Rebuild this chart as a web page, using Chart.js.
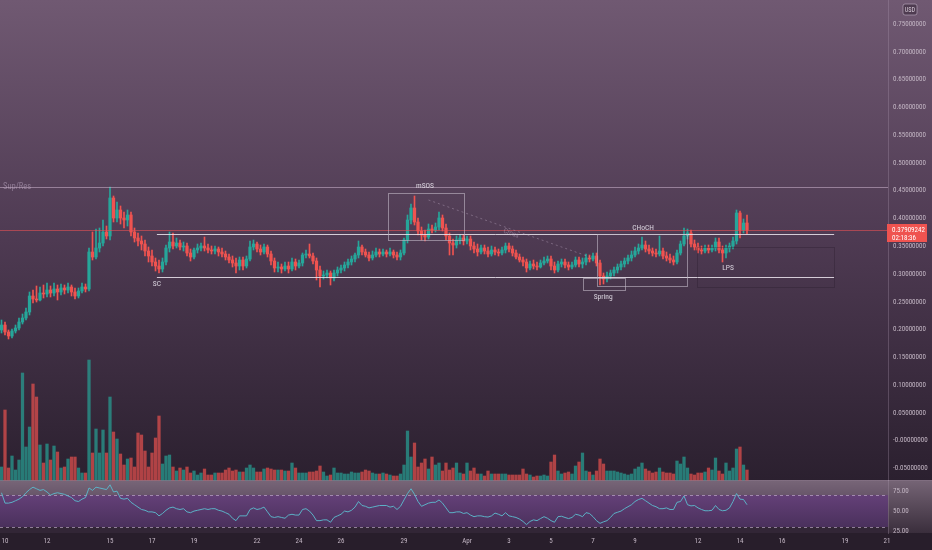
<!DOCTYPE html>
<html><head><meta charset="utf-8">
<script src="https://cdn.jsdelivr.net/npm/chart.js@4.4.1/dist/chart.umd.min.js"></script>
<style>html,body{margin:0;padding:0;background:#281e2b;overflow:hidden}canvas{display:block}</style>
</head><body><canvas id="c" width="932" height="550"></canvas>
<script>
// 4h candles, bar index counted from 10 Mar 00:00 (first candle = index -1)
const firstBar = -1;
const open = [
0.1992,0.2082,0.1956,0.1884,0.1974,0.2028,0.2136,0.2208,0.2316,0.2604,
0.2550,0.2532,0.2658,0.2640,0.2712,0.2658,0.2730,0.2676,0.2748,0.2712,
0.2766,0.2676,0.2604,0.2694,0.2766,0.2730,0.3396,0.3306,0.3468,0.3558,
0.3756,0.3684,0.4368,0.4008,0.4152,0.4008,0.3972,0.4062,0.3756,0.3648,
0.3594,0.3540,0.3414,0.3324,0.3216,0.3144,0.3090,0.3216,0.3468,0.3576,
0.3504,0.3558,0.3486,0.3504,0.3378,0.3306,0.3432,0.3468,0.3504,0.3468,
0.3432,0.3414,0.3450,0.3396,0.3360,0.3306,0.3252,0.3198,0.3144,0.3252,
0.3144,0.3270,0.3486,0.3540,0.3450,0.3396,0.3486,0.3360,0.3234,0.3108,
0.3126,0.3090,0.3144,0.3090,0.3216,0.3144,0.3198,0.3342,0.3360,0.3324,
0.3234,0.3072,0.2964,0.2982,0.3018,0.2928,0.3018,0.3072,0.3108,0.3162,
0.3216,0.3270,0.3342,0.3486,0.3396,0.3342,0.3288,0.3342,0.3396,0.3360,
0.3396,0.3360,0.3396,0.3342,0.3306,0.3378,0.3612,0.3972,0.4188,0.3936,
0.3774,0.3702,0.3666,0.3810,0.3792,0.3846,0.4008,0.3828,0.3684,0.3558,
0.3522,0.3612,0.3648,0.3594,0.3630,0.3504,0.3450,0.3396,0.3468,0.3414,
0.3360,0.3432,0.3396,0.3378,0.3432,0.3504,0.3450,0.3378,0.3306,0.3252,
0.3216,0.3108,0.3180,0.3144,0.3126,0.3198,0.3234,0.3270,0.3144,0.3072,
0.3180,0.3216,0.3162,0.3126,0.3162,0.3252,0.3180,0.3216,0.3288,0.3270,
0.3324,0.3198,0.2964,0.2910,0.2964,0.3018,0.3072,0.3126,0.3180,0.3234,
0.3288,0.3342,0.3414,0.3468,0.3522,0.3450,0.3414,0.3378,0.3360,0.3414,
0.3324,0.3288,0.3252,0.3216,0.3378,0.3540,0.3684,0.3738,0.3540,0.3486,
0.3432,0.3414,0.3468,0.3432,0.3468,0.3576,0.3432,0.3378,0.3468,0.3504,
0.3594,0.4098,0.3792,0.3918];
const high = [
0.2172,0.2136,0.1992,0.2010,0.2082,0.2208,0.2280,0.2388,0.2676,0.2712,
0.2784,0.2766,0.2802,0.2838,0.2784,0.2838,0.2802,0.2820,0.2802,0.2838,
0.2802,0.2748,0.2748,0.2838,0.2820,0.3468,0.3756,0.3810,0.3828,0.3972,
0.3864,0.4566,0.4404,0.4296,0.4224,0.4116,0.4152,0.4116,0.3828,0.3738,
0.3684,0.3612,0.3486,0.3432,0.3288,0.3252,0.3288,0.3522,0.3756,0.3738,
0.3648,0.3612,0.3576,0.3558,0.3450,0.3468,0.3540,0.3558,0.3666,0.3540,
0.3504,0.3504,0.3486,0.3468,0.3414,0.3360,0.3324,0.3288,0.3306,0.3306,
0.3324,0.3594,0.3612,0.3576,0.3522,0.3540,0.3522,0.3414,0.3288,0.3216,
0.3180,0.3216,0.3216,0.3288,0.3270,0.3252,0.3378,0.3432,0.3540,0.3378,
0.3288,0.3144,0.3054,0.3072,0.3054,0.3072,0.3126,0.3162,0.3216,0.3270,
0.3324,0.3378,0.3594,0.3522,0.3450,0.3396,0.3414,0.3468,0.3450,0.3450,
0.3432,0.3468,0.3432,0.3396,0.3432,0.3648,0.4062,0.4260,0.4404,0.4008,
0.3846,0.3792,0.3900,0.3882,0.3918,0.4116,0.4062,0.3900,0.3738,0.3630,
0.3684,0.3702,0.3702,0.3684,0.3684,0.3576,0.3540,0.3522,0.3522,0.3486,
0.3504,0.3486,0.3450,0.3486,0.3558,0.3558,0.3504,0.3432,0.3360,0.3306,
0.3270,0.3234,0.3252,0.3216,0.3252,0.3306,0.3324,0.3324,0.3216,0.3234,
0.3270,0.3270,0.3216,0.3216,0.3306,0.3306,0.3288,0.3360,0.3342,0.3378,
0.3378,0.3252,0.3018,0.3036,0.3072,0.3126,0.3180,0.3234,0.3288,0.3342,
0.3414,0.3486,0.3540,0.3666,0.3594,0.3522,0.3468,0.3450,0.3684,0.3468,
0.3396,0.3360,0.3324,0.3432,0.3594,0.3828,0.3810,0.3792,0.3612,0.3558,
0.3504,0.3522,0.3522,0.3522,0.3648,0.3648,0.3504,0.3522,0.3558,0.3666,
0.4152,0.4134,0.3990,0.4062];
const low = [
0.1938,0.1902,0.1830,0.1848,0.1938,0.1992,0.2100,0.2172,0.2262,0.2478,
0.2496,0.2514,0.2568,0.2586,0.2586,0.2604,0.2532,0.2622,0.2640,0.2658,
0.2604,0.2550,0.2568,0.2658,0.2676,0.2694,0.3252,0.3270,0.3396,0.3504,
0.3630,0.3612,0.3936,0.3936,0.3900,0.3828,0.3864,0.3684,0.3576,0.3504,
0.3432,0.3324,0.3216,0.3144,0.3054,0.3018,0.3036,0.3162,0.3396,0.3450,
0.3468,0.3432,0.3414,0.3324,0.3234,0.3270,0.3378,0.3414,0.3414,0.3378,
0.3360,0.3360,0.3324,0.3306,0.3252,0.3198,0.3126,0.3018,0.3072,0.3072,
0.3108,0.3234,0.3432,0.3396,0.3342,0.3360,0.3306,0.3162,0.3036,0.3036,
0.3018,0.3054,0.3018,0.3054,0.3072,0.3108,0.3144,0.3288,0.3288,0.3180,
0.2892,0.2766,0.2910,0.2928,0.2802,0.2874,0.2964,0.3018,0.3054,0.3108,
0.3162,0.3216,0.3288,0.3342,0.3306,0.3234,0.3252,0.3306,0.3306,0.3324,
0.3306,0.3324,0.3288,0.3252,0.3252,0.3342,0.3558,0.3900,0.3882,0.3702,
0.3612,0.3594,0.3630,0.3738,0.3756,0.3792,0.3774,0.3612,0.3342,0.3342,
0.3468,0.3540,0.3522,0.3540,0.3432,0.3378,0.3324,0.3360,0.3360,0.3306,
0.3324,0.3342,0.3324,0.3342,0.3378,0.3396,0.3324,0.3270,0.3216,0.3144,
0.3036,0.3072,0.3090,0.3072,0.3108,0.3162,0.3198,0.3072,0.3018,0.3036,
0.3126,0.3108,0.3072,0.3090,0.3126,0.3126,0.3108,0.3162,0.3216,0.3234,
0.3144,0.2802,0.2820,0.2856,0.2910,0.2964,0.3018,0.3072,0.3126,0.3180,
0.3234,0.3306,0.3360,0.3432,0.3396,0.3360,0.3324,0.3306,0.3324,0.3270,
0.3234,0.3198,0.3162,0.3180,0.3342,0.3504,0.3630,0.3486,0.3432,0.3378,
0.3360,0.3378,0.3378,0.3396,0.3414,0.3378,0.3216,0.3288,0.3396,0.3450,
0.3540,0.3648,0.3738,0.3720];
const close = [
0.2082,0.1956,0.1884,0.1974,0.2028,0.2136,0.2208,0.2316,0.2604,0.2550,
0.2532,0.2658,0.2640,0.2712,0.2658,0.2730,0.2676,0.2748,0.2712,0.2766,
0.2676,0.2604,0.2694,0.2766,0.2730,0.3396,0.3306,0.3468,0.3558,0.3756,
0.3684,0.4368,0.4008,0.4152,0.4008,0.3972,0.4062,0.3756,0.3648,0.3594,
0.3540,0.3414,0.3324,0.3216,0.3144,0.3090,0.3216,0.3468,0.3576,0.3504,
0.3558,0.3486,0.3504,0.3378,0.3306,0.3432,0.3468,0.3504,0.3468,0.3432,
0.3414,0.3450,0.3396,0.3360,0.3306,0.3252,0.3198,0.3144,0.3252,0.3144,
0.3270,0.3486,0.3540,0.3450,0.3396,0.3486,0.3360,0.3234,0.3108,0.3126,
0.3090,0.3144,0.3090,0.3216,0.3144,0.3198,0.3342,0.3360,0.3324,0.3234,
0.3072,0.2964,0.2982,0.3018,0.2928,0.3018,0.3072,0.3108,0.3162,0.3216,
0.3270,0.3342,0.3486,0.3396,0.3342,0.3288,0.3342,0.3396,0.3360,0.3396,
0.3360,0.3396,0.3342,0.3306,0.3378,0.3612,0.3972,0.4188,0.3936,0.3774,
0.3702,0.3666,0.3810,0.3792,0.3846,0.4008,0.3828,0.3684,0.3558,0.3522,
0.3612,0.3648,0.3594,0.3630,0.3504,0.3450,0.3396,0.3468,0.3414,0.3360,
0.3432,0.3396,0.3378,0.3432,0.3504,0.3450,0.3378,0.3306,0.3252,0.3216,
0.3108,0.3180,0.3144,0.3126,0.3198,0.3234,0.3270,0.3144,0.3072,0.3180,
0.3216,0.3162,0.3126,0.3162,0.3252,0.3180,0.3216,0.3288,0.3270,0.3324,
0.3198,0.2964,0.2910,0.2964,0.3018,0.3072,0.3126,0.3180,0.3234,0.3288,
0.3342,0.3414,0.3468,0.3522,0.3450,0.3414,0.3378,0.3360,0.3414,0.3324,
0.3288,0.3252,0.3216,0.3378,0.3540,0.3684,0.3738,0.3540,0.3486,0.3432,
0.3414,0.3468,0.3432,0.3468,0.3576,0.3432,0.3378,0.3468,0.3504,0.3594,
0.4098,0.3792,0.3918,0.3791];
const volume = [
1.3,7.0,1.2,2.4,1.0,2.0,10.7,3.3,5.3,9.6,
8.3,3.5,1.7,3.6,2.0,3.4,2.8,1.2,1.3,2.1,
2.3,2.3,1.2,0.7,0.7,12.0,2.7,5.1,2.7,5.0,
2.7,8.3,4.8,4.1,2.6,1.5,2.1,2.2,1.3,4.7,
4.5,2.9,1.3,2.7,4.2,6.4,1.6,2.4,2.5,1.3,
0.9,1.2,1.0,1.3,0.7,0.9,0.5,0.7,1.1,0.5,
0.5,0.7,0.7,0.7,1.0,1.2,0.9,1.0,0.8,0.8,
1.2,1.5,1.2,0.8,0.8,1.1,1.2,1.1,1.0,1.0,
1.0,0.9,0.9,1.7,1.2,0.7,0.7,0.7,0.8,0.8,
0.9,1.4,0.8,0.4,0.5,1.2,0.7,0.7,0.6,0.6,
0.8,0.7,0.7,0.8,1.0,0.9,0.7,0.6,0.6,0.7,
0.6,0.5,0.4,0.4,0.6,1.5,4.9,2.3,3.7,1.3,
1.7,2.1,1.1,2.3,1.5,1.7,0.9,1.7,1.0,1.2,
1.7,0.7,0.6,1.7,0.9,1.2,0.6,0.6,0.4,0.9,
0.6,0.6,0.6,0.6,0.6,0.5,0.5,0.5,0.5,1.1,
0.6,0.5,0.3,0.4,0.4,0.5,0.4,1.8,2.5,0.9,
0.6,0.7,0.8,0.6,1.4,1.8,2.7,0.9,0.8,0.5,
0.9,2.1,1.6,0.9,0.9,0.9,0.8,0.7,0.6,0.5,
0.6,1.1,1.3,1.7,1.1,0.9,0.7,0.8,1.2,0.8,
0.7,0.7,0.6,1.9,1.6,2.3,1.2,0.6,0.5,0.7,
0.7,0.8,1.2,1.0,2.2,0.9,0.6,1.7,0.9,1.2,
3.1,3.3,1.5,1.0];
const rsi = [
73,60,60,61,63,65,68,73,77,80,
78,76,77,74,70,72,73,72,71,69,
67,63,62,65,67,79,76,80,79,78,
77,83,74,75,66,65,66,61,58,55,
52,51,49,49,48,44,47,51,54,55,
53,52,53,49,48,50,51,52,53,52,
53,53,51,50,48,46,41,38,44,44,
44,52,54,52,53,55,49,43,42,43,
42,41,45,46,45,45,52,53,50,45,
38,38,39,39,36,42,44,46,50,49,
51,55,62,57,56,54,55,56,57,57,
57,55,56,52,56,64,72,78,71,62,
56,58,60,61,61,64,60,54,48,48,
49,49,47,48,45,43,44,44,43,42.5,
44,47.5,46,44,48,44,43,42,40,37,
33,37,39,38,40.6,43,41,38,36,43,
43.5,42,40.6,42,46,45,43,48,47,43,
38,34.6,36.5,38,42,47,48.5,50,53,55.5,
58,62,64.5,66,63,60,57,55.5,53,53,
54,52,52,61,62,69,58,56.5,57,54,
52,50.4,50.4,51,57,52,50.4,51,54,62,
72,65,64.5,58];

// axis ticks
const dateTickPos = [0,12,30,42,54,72,84,96,114,132,144,156,168,180,198,210,222,240,252];
const dateTickLabels = ['10','12','15','17','19','22','24','26','29','Apr','3','5','7','9','12','14','16','19','21'];
const priceTicks = [0.75,0.70,0.65,0.60,0.55,0.50,0.45,0.40,0.35,0.30,0.25,0.20,0.15,0.10,0.05,0,-0.05];
const priceTickLabels = ['0.75000000','0.70000000','0.65000000','0.60000000','0.55000000','0.50000000','0.45000000','0.40000000','0.35000000','0.30000000','0.25000000','0.20000000','0.15000000','0.10000000','0.05000000','-0.00000000','-0.05000000'];
const rsiTicks = [75,50,25];
const rsiTickLabels = ['75.00','50.00','25.00'];
const rsiBands = [70,30];
const lastPriceText = '0.37909242';
const countdownText = '02:18:36';
const currencyText = 'USD';

// drawings (bar index / price units)
const supRes = 0.4566;
const rangeLevels = [0.3720, 0.2946];
const rangeSpan = [43.4, 236.9];
const boxNames = ['mSOS','Spring','CHoCH','LPS'];
const boxX = [[109.4,131.1],[165.1,177.1],[169.1,194.9],[197.7,236.9]];
const boxY = [[0.4458,0.3612],[0.2928,0.2712],[0.3720,0.2784],[0.3486,0.2766]];
const labelText = ['SC','mSOS','CHoCH','Spring','LPS'];
const labelX = [43.4,120.0,182.3,170.9,206.6];
const labelY = [0.2820,0.4584,0.3828,0.2586,0.3108];
const crossLine = [[121.0,0.4332],[167.1,0.3306]];

const FONT = "'Roboto Condensed','DejaVu Sans Condensed',sans-serif";
const UP = '#26a69a', DN = '#ef5350';
const xs = close.map((_, k) => firstBar + k);
const isUp = close.map((c, k) => c >= open[k]);
const candleCol = isUp.map(u => u ? UP : DN);
const volCol = isUp.map(u => u ? 'rgba(38,166,154,0.68)' : 'rgba(239,83,80,0.68)');

const bgPlugin = {
  id: 'bg',
  beforeDraw(chart) {
    const {ctx, chartArea: ca, scales} = chart;
    const p = scales.price, r = scales.rsi;
    const W = chart.width, H = chart.height;
    ctx.save();
    let g = ctx.createLinearGradient(0, 0, 0, p.bottom);
    g.addColorStop(0, 'rgb(112,89,114)');
    g.addColorStop(0.5, 'rgb(78,58,82)');
    g.addColorStop(1, 'rgb(43,32,47)');
    ctx.fillStyle = g; ctx.fillRect(0, 0, W, p.bottom);
    g = ctx.createLinearGradient(0, r.top, 0, r.bottom);
    g.addColorStop(0, 'rgb(118,101,118)');
    g.addColorStop(1, 'rgb(58,46,60)');
    ctx.fillStyle = g; ctx.fillRect(0, r.top, W, r.bottom - r.top);
    const y70 = r.getPixelForValue(rsiBands[0]), y30 = r.getPixelForValue(rsiBands[1]);
    g = ctx.createLinearGradient(0, r.top, 0, y70);
    g.addColorStop(0, 'rgb(120,102,120)'); g.addColorStop(1, 'rgb(104,86,106)');
    ctx.fillStyle = g; ctx.fillRect(ca.left, r.top, ca.right - ca.left, y70 - r.top);
    g = ctx.createLinearGradient(0, y70, 0, y30);
    g.addColorStop(0, 'rgb(100,64,120)'); g.addColorStop(1, 'rgb(74,48,92)');
    ctx.fillStyle = g; ctx.fillRect(ca.left, y70, ca.right - ca.left, y30 - y70);
    ctx.fillStyle = 'rgb(50,38,54)';
    ctx.fillRect(ca.left, y30, ca.right - ca.left, r.bottom - y30);
    ctx.fillStyle = 'rgb(40,30,43)';
    ctx.fillRect(0, r.bottom, W, H - r.bottom);
    ctx.strokeStyle = 'rgba(205,185,215,0.6)'; ctx.lineWidth = 1; ctx.setLineDash([3, 3]);
    [y70, y30].forEach(y => {
      ctx.beginPath(); ctx.moveTo(ca.left, Math.round(y) + 0.5); ctx.lineTo(ca.right, Math.round(y) + 0.5); ctx.stroke();
    });
    ctx.setLineDash([]);
    ctx.strokeStyle = 'rgba(150,130,150,0.35)';
    ctx.beginPath(); ctx.moveTo(0, Math.round(r.top) + 0.5); ctx.lineTo(W, Math.round(r.top) + 0.5); ctx.stroke();
    ctx.restore();
  }
};

const drawPlugin = {
  id: 'drawings',
  afterDatasetsDraw(chart) {
    const {ctx, chartArea: ca, scales} = chart;
    const xS = scales.x, p = scales.price;
    const X = v => xS.getPixelForValue(v), Y = v => p.getPixelForValue(v);
    const cr = v => Math.round(v) + 0.5;
    const hline = (x1, x2, y, col) => { ctx.strokeStyle = col; ctx.beginPath(); ctx.moveTo(x1, cr(y)); ctx.lineTo(x2, cr(y)); ctx.stroke(); };
    ctx.save();
    ctx.beginPath(); ctx.rect(ca.left, 0, ca.right - ca.left, p.bottom); ctx.clip();
    ctx.lineWidth = 1;
    hline(ca.left, ca.right, Y(supRes), 'rgba(205,180,205,0.55)');
    hline(ca.left, ca.right, Y(close[close.length - 1]), 'rgba(230,80,85,0.6)');
    rangeLevels.forEach(l => hline(X(rangeSpan[0]), X(rangeSpan[1]), Y(l), 'rgba(232,225,235,0.88)'));
    boxNames.forEach((n, k) => {
      ctx.strokeStyle = n === 'LPS' ? 'rgba(35,24,40,0.3)' : 'rgba(190,180,195,0.62)';
      const x1 = cr(X(boxX[k][0])), x2 = cr(X(boxX[k][1]));
      const y1 = cr(Y(boxY[k][0])), y2 = cr(Y(boxY[k][1]));
      ctx.strokeRect(x1, y1, x2 - x1, y2 - y1);
    });
    const ax = X(crossLine[0][0]), ay = Y(crossLine[0][1]);
    const bx = X(crossLine[1][0]), by = Y(crossLine[1][1]);
    ctx.strokeStyle = 'rgba(190,170,195,0.4)'; ctx.setLineDash([2, 3]);
    ctx.beginPath(); ctx.moveTo(ax, ay); ctx.lineTo(bx, by); ctx.stroke();
    ctx.setLineDash([]);
    ctx.save();
    ctx.translate((ax + bx) / 2 + 2, (ay + by) / 2 + 5);
    ctx.rotate(Math.atan2(by - ay, bx - ax));
    ctx.fillStyle = 'rgba(200,180,205,0.45)'; ctx.font = `7px ${FONT}`;
    ctx.textAlign = 'center'; ctx.textBaseline = 'middle';
    ctx.fillText('Cross', 0, 0);
    ctx.restore();
    ctx.font = `7.5px ${FONT}`; ctx.textAlign = 'center'; ctx.textBaseline = 'middle';
    ctx.fillStyle = 'rgba(228,222,232,0.92)';
    labelText.forEach((t, k) => ctx.fillText(t, X(labelX[k]), Y(labelY[k])));
    ctx.font = `8.5px ${FONT}`; ctx.textAlign = 'left';
    ctx.fillStyle = 'rgba(200,180,205,0.5)';
    ctx.fillText('Sup/Res', ca.left + 3, Y(supRes));
    ctx.restore();
  },
  afterDraw(chart) {
    const {ctx, chartArea: ca, scales} = chart;
    const p = scales.price;
    const py = p.getPixelForValue(close[close.length - 1]);
    ctx.save();
    ctx.fillStyle = '#ef5350';
    ctx.fillRect(ca.right - 1, Math.round(py) - 6, 40, 18);
    ctx.fillStyle = '#ffffff'; ctx.font = `7px ${FONT}`;
    ctx.textAlign = 'left'; ctx.textBaseline = 'middle';
    ctx.fillText(lastPriceText, ca.right + 4, py);
    ctx.fillText(countdownText, ca.right + 4, py + 8);
    const bx = ca.right + 15, by = 4, bw = 14, bh = 11;
    ctx.beginPath();
    ctx.roundRect ? ctx.roundRect(bx, by, bw, bh, 2) : ctx.rect(bx, by, bw, bh);
    ctx.fillStyle = 'rgba(70,52,72,0.8)'; ctx.fill();
    ctx.strokeStyle = 'rgba(190,175,195,0.6)'; ctx.lineWidth = 1; ctx.stroke();
    ctx.fillStyle = '#d8ccd8'; ctx.font = `6.3px ${FONT}`; ctx.textAlign = 'center';
    ctx.fillText(currencyText, bx + bw / 2, by + bh / 2 + 0.5);
    ctx.restore();
  }
};

const tickFont = {family: FONT, size: 7};
const tickColor = '#c2b5c3';
const noPad = s => { s.paddingTop = 0; s.paddingBottom = 0; s.paddingLeft = 0; s.paddingRight = 0; };

new Chart(document.getElementById('c'), {
  type: 'bar',
  data: {
    datasets: [
      {type: 'bar', label: 'Volume', yAxisID: 'vol', data: xs.map((x, k) => ({x, y: volume[k]})),
       backgroundColor: volCol, barThickness: 2.6, grouped: false, order: 10},
      {type: 'bar', label: 'Wick', yAxisID: 'price', data: xs.map((x, k) => ({x, y: [low[k], high[k]]})),
       backgroundColor: candleCol, barThickness: 1, grouped: false, order: 5},
      {type: 'bar', label: 'Body', yAxisID: 'price', data: xs.map((x, k) => ({x, y: [open[k], close[k]]})),
       backgroundColor: candleCol, barThickness: 2.6, minBarLength: 1, grouped: false, order: 4},
      {type: 'line', label: 'RSI', yAxisID: 'rsi', data: xs.map((x, k) => ({x, y: rsi[k]})),
       borderColor: 'rgba(92,182,202,0.95)', borderWidth: 1, pointRadius: 0, tension: 0, order: 1}
    ]
  },
  options: {
    responsive: false, animation: false, devicePixelRatio: 1,
    layout: {padding: 0},
    plugins: {legend: {display: false}, tooltip: {enabled: false}},
    scales: {
      x: {type: 'linear', min: -1.4286, max: 252.2857, offset: false,
          grid: {display: false, drawTicks: false}, border: {display: false},
          afterBuildTicks: s => { s.ticks = dateTickPos.map(v => ({value: v})); },
          afterFit: s => { s.height = 17; noPad(s); },
          ticks: {autoSkip: false, maxRotation: 0, minRotation: 0, padding: 4, color: tickColor, font: tickFont,
                  callback: (v, i) => dateTickLabels[i]}},
      price: {type: 'linear', position: 'right', stack: 'panes', stackWeight: 480, min: -0.0708, max: 0.7932,
          grid: {display: false, drawTicks: false}, border: {display: true, color: 'rgba(175,155,180,0.3)'},
          afterBuildTicks: s => { s.ticks = priceTicks.map(v => ({value: v})); },
          afterFit: s => { s.width = 44; noPad(s); },
          ticks: {autoSkip: false, padding: 5, color: tickColor, font: tickFont, callback: (v, i) => priceTickLabels[i]}},
      rsi: {type: 'linear', position: 'right', stack: 'panes', stackWeight: 53, min: 22.5, max: 89,
          grid: {display: false, drawTicks: false}, border: {display: true, color: 'rgba(175,155,180,0.3)'},
          afterBuildTicks: s => { s.ticks = rsiTicks.map(v => ({value: v})); },
          afterFit: s => { s.width = 44; noPad(s); },
          ticks: {autoSkip: false, padding: 5, color: tickColor, font: tickFont, callback: (v, i) => rsiTickLabels[i]}},
      vol: {type: 'linear', position: 'left', display: false, min: -5.3, max: 48,
          afterFit: s => { noPad(s); }}
    }
  },
  plugins: [bgPlugin, drawPlugin]
});
</script>
</body></html>
